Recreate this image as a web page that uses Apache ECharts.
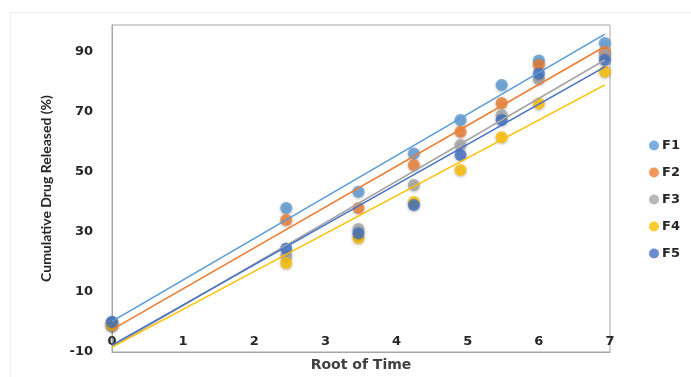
<!DOCTYPE html>
<html>
<head>
<meta charset="utf-8">
<script src="https://cdn.jsdelivr.net/npm/echarts@6/dist/echarts.min.js"></script>
<style>
html,body{margin:0;padding:0;background:#fff;}
#chart{width:691px;height:377px;}
</style>
</head>
<body>
<div id="chart"></div>
<script>
// Root of time values (sqrt of sampling times)
const rootTime = [0, 2.449, 3.464, 4.243, 4.899, 5.477, 6.0, 6.928];
const seriesNames = ['F1', 'F2', 'F3', 'F4', 'F5'];
const F1 = [0, 38, 43.4, 56.2, 67.3, 79, 87.2, 93];
const F2 = [-1, 34, 38, 52.3, 63.4, 73, 85.7, 90];
const F3 = [-1, 22, 31, 45.7, 59, 69, 81, 89];
const F4 = [-1, 19.7, 28, 40, 50.7, 61.6, 72.8, 83.4];
const F5 = [0, 24.5, 29.6, 39, 55.7, 67.3, 82.8, 87.3];
const yTickLabels = [-10, 10, 30, 50, 70, 90];
const xTickLabels = [0, 1, 2, 3, 4, 5, 6, 7];

const allValues = [F1, F2, F3, F4, F5];
const colors = ['#5B9BD5', '#ED7D31', '#A5A5A5', '#FFC000', '#4472C4'];
const wideFont = '"DejaVu Sans", sans-serif';
const titleFont = 'Lato, "Open Sans", sans-serif';

function regression(xs, ys) {
  const n = xs.length;
  const mx = xs.reduce((a, b) => a + b, 0) / n;
  const my = ys.reduce((a, b) => a + b, 0) / n;
  let sxy = 0, sxx = 0;
  for (let i = 0; i < n; i++) { sxy += (xs[i] - mx) * (ys[i] - my); sxx += (xs[i] - mx) * (xs[i] - mx); }
  const m = sxy / sxx;
  return { m: m, b: my - m * mx };
}

const series = [];
allValues.forEach((vals, i) => {
  series.push({
    name: seriesNames[i],
    type: 'scatter',
    data: rootTime.map((x, j) => [x, vals[j]]),
    symbolSize: 12,
    z: 2 + i * 0.01,
    itemStyle: { color: colors[i], shadowBlur: 3, shadowColor: 'rgba(0,0,0,0.35)', shadowOffsetY: 1 }
  });
});
allValues.forEach((vals, i) => {
  const r = regression(rootTime, vals);
  const x0 = rootTime[0], x1 = rootTime[rootTime.length - 1];
  series.push({
    name: seriesNames[i] + ' trend',
    type: 'line',
    data: [[x0, r.b + r.m * x0], [x1, r.b + r.m * x1]],
    showSymbol: false,
    symbol: 'none',
    silent: true,
    z: 3,
    lineStyle: { color: colors[i], width: 1.6 }
  });
});

const chart = echarts.init(document.getElementById('chart'));
chart.setOption({
  animation: false,
  backgroundColor: '#fff',
  graphic: [{
    type: 'rect', left: 8, top: 10, shape: { width: 700, height: 400 },
    style: { fill: 'none', stroke: '#ececec', lineWidth: 1 }, z: -1
  }],
  grid: {
    left: 112, right: 81, top: 25, bottom: 24,
    show: true, borderColor: '#a6a6a6', borderWidth: 1
  },
  legend: {
    data: seriesNames,
    orient: 'vertical',
    left: 644, top: 134,
    itemWidth: 10, itemHeight: 10, itemGap: 14,
    icon: 'circle',
    textStyle: { fontFamily: wideFont, fontWeight: 'bold', fontSize: 13, color: '#262626', padding: [0, 0, 0, -2] }
  },
  xAxis: {
    type: 'value', min: 0, max: 7, interval: 1,
    name: 'Root of Time', nameLocation: 'middle', nameGap: 6,
    nameTextStyle: { fontFamily: wideFont, fontWeight: 'bold', fontSize: 14, color: '#404040' },
    axisLine: { show: true, onZero: false, lineStyle: { color: '#a6a6a6' } },
    axisTick: { show: false },
    splitLine: { show: false },
    axisLabel: {
      inside: true, margin: 4,
      fontFamily: wideFont, fontWeight: 'bold', fontSize: 13, color: '#262626',
      formatter: v => (xTickLabels.indexOf(v) >= 0 ? String(v) : '')
    }
  },
  yAxis: {
    type: 'value', min: -10, max: 99, interval: 10,
    name: 'Cumulative Drug Released (%)', nameLocation: 'middle', nameGap: 59,
    nameTextStyle: { fontFamily: titleFont, fontWeight: 'bold', fontSize: 14, color: '#262626' },
    axisLine: { show: true, lineStyle: { color: '#a6a6a6' } },
    axisTick: { show: false },
    splitLine: { show: false },
    axisLabel: {
      margin: 19,
      fontFamily: wideFont, fontWeight: 'bold', fontSize: 13, color: '#262626',
      showMaxLabel: false,
      formatter: v => (yTickLabels.indexOf(v) >= 0 ? String(v) : '')
    }
  },
  series: series
});
</script>
</body>
</html>
